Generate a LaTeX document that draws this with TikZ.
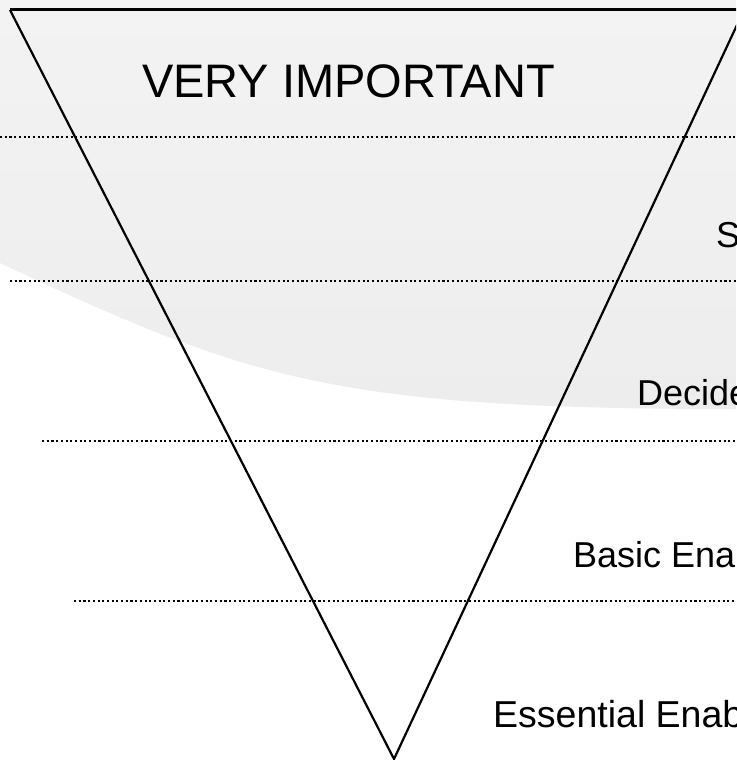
\documentclass[tikz,border=0pt]{standalone}
\usepackage{fontspec}
\setmainfont{Liberation Sans}
\begin{document}
\begin{tikzpicture}[x=1pt,y=-1pt,
  sideline/.style={line width=2.2pt,line join=miter},
  topline/.style={line width=3pt},
  levelline/.style={line width=2.1pt,dash pattern=on 2.1pt off 2.6pt},
  bigtext/.style={inner sep=0pt,anchor=base west,font=\fontsize{47}{56}\selectfont},
  leveltext/.style={inner sep=0pt,anchor=base west,font=\fontsize{36}{43}\selectfont}]
\useasboundingbox (0,0) rectangle (736,760);
\clip (0,0) rectangle (736,760);
\fill[white] (0,0) rectangle (736,760);
\shade[top color={rgb,255:red,243;green,243;blue,243},bottom color={rgb,255:red,237;green,237;blue,237}]
  (0,0) -- (736,0) -- (736,409) .. controls (336,409) and (250,380.5) .. (0,263) -- cycle;
% triangle corners
\coordinate (tl) at (10,10);
\coordinate (tr) at (744,10);
\coordinate (apex) at (394,759);
% level lines
\coordinate (l1a) at (0,137);   \coordinate (l1b) at (736,137);
\coordinate (l2a) at (10,281);  \coordinate (l2b) at (736,281);
\coordinate (l3a) at (42,441);  \coordinate (l3b) at (736,441);
\coordinate (l4a) at (74,601);  \coordinate (l4b) at (736,601);
\draw[levelline] (l1a) -- (l1b);
\draw[levelline] (l2a) -- (l2b);
\draw[levelline] (l3a) -- (l3b);
\draw[levelline] (l4a) -- (l4b);
\draw[sideline] (tr) -- (apex) -- (tl);
\draw[topline] (tl) -- (tr);
% labels
\node[bigtext] (vi) at (142,97) {VERY IMPORTANT};
\node[leveltext] (s) at (716,247) {S};
\node[leveltext] (dec) at (637,405) {Decide};
\node[leveltext] (bas) at (573,567) {Basic Ena};
\node[leveltext,font=\fontsize{37.5}{45}\selectfont] (ess) at (493,727) {Essential Enab};
\end{tikzpicture}
\end{document}
